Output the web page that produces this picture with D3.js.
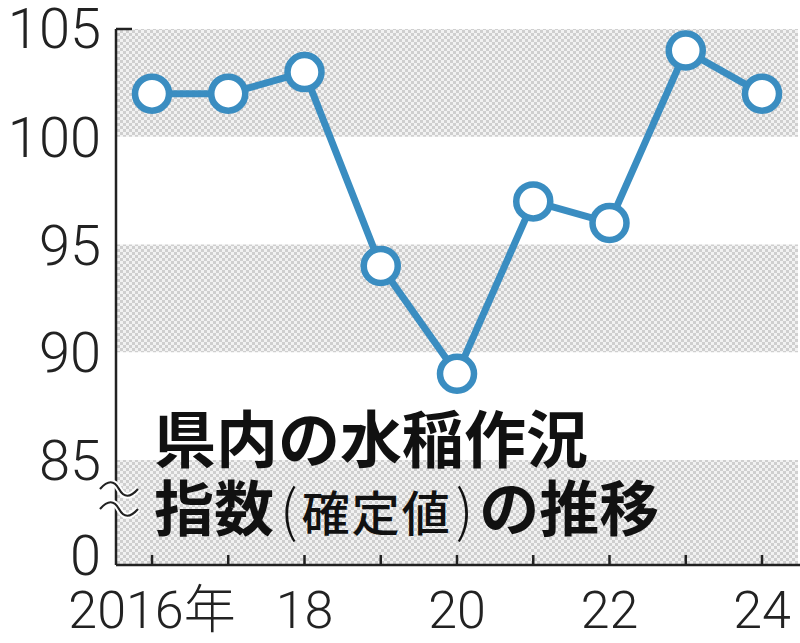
<!DOCTYPE html>
<html><head><meta charset="utf-8">
<script src="https://cdn.jsdelivr.net/npm/d3@7"></script>
<style>body{margin:0;background:#fff}svg{display:block}</style>
</head><body>
<svg id="c" width="800" height="643"></svg>
<script>
const years = [2016,2017,2018,2019,2020,2021,2022,2023,2024];
const values = [102,102,103,94,89,97,96,104,102];
const yTicks = [105,100,95,90,85,0];
const xLabels = [[2016,"2016年"],[2018,"18"],[2020,"20"],[2022,"22"],[2024,"24"]];
const bands = [[105,100],[95,90],[85,0]];
const titleLine1 = "県内の水稲作況";
const titleLine2 = [["指数","big"],["(","paren"],["確定値","small"],[")","paren"],["の推移","big"]];

const svg = d3.select("#c");
const pLeft = 116, pRight = 798, pTop = 29, pBottom = 565;
const y = d3.scaleLinear().domain([0,85,105]).range([pBottom,460,pTop]);
const x = d3.scaleLinear().domain([2016,2024]).range([152,762]);

const defs = svg.append("defs");
const pat = defs.append("pattern").attr("id","chk").attr("width",6).attr("height",6).attr("patternUnits","userSpaceOnUse");
pat.append("rect").attr("width",6).attr("height",6).attr("fill","#f2f2f2");
pat.append("rect").attr("width",3).attr("height",3).attr("fill","#cfcfcf");
pat.append("rect").attr("x",3).attr("y",3).attr("width",3).attr("height",3).attr("fill","#cfcfcf");

svg.selectAll("rect.band").data(bands).join("rect").attr("class","band")
  .attr("x",pLeft).attr("width",pRight-pLeft)
  .attr("y",d=>y(d[0])).attr("height",d=>y(d[1])-y(d[0]))
  .attr("fill","url(#chk)");

// axes
const ax = svg.append("g").attr("stroke","#222").attr("stroke-width",2.5).attr("fill","none");
ax.append("line").attr("x1",pLeft).attr("x2",pLeft).attr("y1",y(105)).attr("y2",pBottom);
ax.append("line").attr("x1",pLeft).attr("x2",pLeft+16).attr("y1",y(105)).attr("y2",y(105));
ax.append("line").attr("x1",pLeft).attr("x2",800).attr("y1",pBottom).attr("y2",pBottom);
ax.selectAll("line.t").data(years).join("line").attr("class","t")
  .attr("x1",d=>x(d)).attr("x2",d=>x(d)).attr("y1",pBottom).attr("y2",pBottom-10);

// break marks
const wave = (cy)=>`M100,${cy} C108,${cy-9} 114,${cy-9} 119,${cy} S130,${cy+9} 138,${cy}`;
[489,509].forEach(cy=>{
  svg.append("path").attr("d",wave(cy)).attr("fill","none").attr("stroke","#fff").attr("stroke-width",6);
  svg.append("path").attr("d",wave(cy)).attr("fill","none").attr("stroke","#222").attr("stroke-width",2.2);
});

// y labels
svg.selectAll("text.yl").data(yTicks).join("text").attr("class","yl")
  .attr("x",101).attr("y",d=>y(d) - (d===0?10:0) + (d===105?-1:0)).attr("dy","0.36em")
  .attr("text-anchor","end").attr("font-family","Roboto, 'Noto Sans', sans-serif")
  .attr("font-weight",300).attr("font-size",56).attr("fill","#222")
  .text(d=>d);
// x labels
svg.selectAll("text.xl").data(xLabels).join("text").attr("class","xl")
  .attr("x",d=>x(d[0])).attr("y",628)
  .attr("text-anchor","middle").attr("font-family","Roboto, 'Noto Sans CJK JP', sans-serif")
  .attr("font-weight",300).attr("font-size",52).attr("fill","#222")
  .text(d=>d[1]);

// line
const pts = years.map((yr,i)=>[x(yr),y(values[i])]);
svg.append("path").attr("d",d3.line()(pts)).attr("fill","none")
  .attr("stroke","#3a8dc1").attr("stroke-width",7).attr("stroke-linejoin","round");
svg.selectAll("circle.p").data(pts).join("circle").attr("class","p")
  .attr("cx",d=>d[0]).attr("cy",d=>d[1]).attr("r",17)
  .attr("fill","#fff").attr("stroke","#3a8dc1").attr("stroke-width",6.5);

// title
const tf = "'Noto Sans CJK JP', sans-serif";
svg.append("text").attr("x",154).attr("y",463).attr("font-family",tf).attr("font-weight",700)
  .attr("font-size",62).attr("fill","#111").text(titleLine1);
const t2 = svg.append("text").attr("x",154).attr("y",531).attr("font-family",tf).attr("fill","#111");
const dxs = [0,6,4,4,6];
t2.selectAll("tspan").data(titleLine2).join("tspan")
  .attr("font-size",d=>d[1]==="big"?60:(d[1]==="paren"?56:48))
  .attr("font-weight",d=>d[1]==="big"?700:(d[1]==="paren"?300:500))
  .attr("letter-spacing",d=>d[1]==="small"?2:0)
  .attr("dx",(d,i)=>dxs[i])
  .text(d=>d[0]);
</script>
</body></html>
